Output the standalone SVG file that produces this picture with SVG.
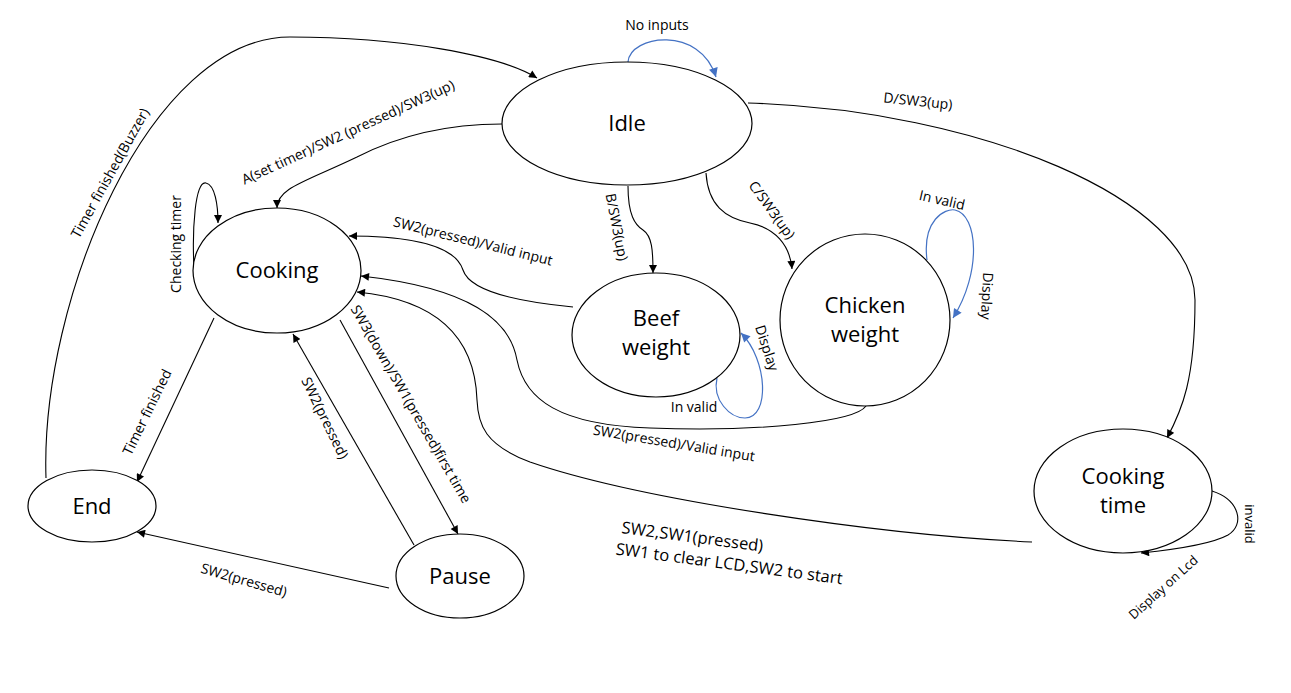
<svg xmlns="http://www.w3.org/2000/svg" width="1291" height="693" viewBox="0 0 1291 693">
<defs>
<style>
.node{fill:#fff;stroke:#000;stroke-width:1.2}
.nt{font-family:"Open Sans","Liberation Sans",sans-serif;font-size:22px;fill:#000;text-anchor:middle}
.e{fill:none;stroke:#000;stroke-width:1.1}
.b{fill:none;stroke:#4472C4;stroke-width:1.2}
.lb{font-family:"Open Sans","Liberation Sans",sans-serif;font-size:14px;fill:#000;text-anchor:middle}
.sm{font-size:13px}
</style>
<marker id="ah" viewBox="0 0 10 10" refX="10" refY="5" markerWidth="9" markerHeight="8" markerUnits="userSpaceOnUse" orient="auto"><path d="M0,0 L10,5 L0,10 z" fill="#000"/></marker>
<marker id="ahb" viewBox="0 0 10 10" refX="10" refY="5" markerWidth="10" markerHeight="9" markerUnits="userSpaceOnUse" orient="auto"><path d="M0,0 L10,5 L0,10 z" fill="#4472C4"/></marker>
</defs>
<rect width="1291" height="693" fill="#fff"/>
<g id="connectors">
<path class="e" d="M46,478 C40,300 150,37 290,37 C400,37 500,55 537,78" marker-end="url(#ah)"/>
<path class="e" d="M502,124 C450,124 400,135 357,157 C305,182 277,188 277,208" marker-end="url(#ah)"/>
<path class="b" d="M628,62 C630,35 700,25 716,77" marker-end="url(#ahb)"/>
<path class="e" d="M748,103 C980,110 1195,200 1195,300 C1195,380 1182,410 1167,438" marker-end="url(#ah)"/>
<path class="e" d="M628,186 C628,215 635,225 643,230 C652,236 653,250 653,273" marker-end="url(#ah)"/>
<path class="e" d="M706,173 C708,205 725,218 750,223 C775,228 790,245 792,269" marker-end="url(#ah)"/>
<path class="b" d="M927,260 C922,220 945,208 955,210 C978,215 982,272 953,318" marker-end="url(#ahb)"/>
<path class="e" d="M573,307 C520,302 470,292 463,270 C455,245 410,236 349,236" marker-end="url(#ah)"/>
<path class="b" d="M717,378 C712,400 730,418 745,418 C770,418 768,360 741,333" marker-end="url(#ahb)"/>
<path class="e" d="M866,406 C855,422 760,432 650,428 C560,425 525,400 517,360 C510,320 470,288 361,276" marker-end="url(#ah)"/>
<path class="e" d="M1032,542 C880,535 640,500 530,462 C485,445 478,425 477,400 C475,340 440,300 357,292" marker-end="url(#ah)"/>
<path class="e" d="M194,268 C192,230 195,180 206,183 C215,185 218,205 218,223" marker-end="url(#ah)"/>
<path class="e" d="M1212,491 C1240,500 1245,525 1228,535 C1210,545 1170,550 1141,553" marker-end="url(#ah)"/>
<path class="e" d="M214,318 Q180,390 137,482" marker-end="url(#ah)"/>
<path class="e" d="M414,545 L293,334" marker-end="url(#ah)"/>
<path class="e" d="M340,320 L458,534" marker-end="url(#ah)"/>
<path class="e" d="M389,588 L137,532" marker-end="url(#ah)"/>
</g>
<g id="labels">
<text class="lb" x="657" y="30">No inputs</text>
<text class="lb" transform="translate(918,101) rotate(6)" dy="5">D/SW3(up)</text>
<text class="lb" transform="translate(348,132) rotate(-24.5)" dy="5">A(set timer)/SW2 (pressed)/SW3(up)</text>
<text class="lb" transform="translate(110,173) rotate(-61)" dy="5">Timer finished(Buzzer)</text>
<text class="lb" transform="translate(617,227) rotate(79)" dy="5">B/SW3(up)</text>
<text class="lb" transform="translate(772,210) rotate(54)" dy="5">C/SW3(up)</text>
<text class="lb" transform="translate(942,200) rotate(13)" dy="5">In valid</text>
<text class="lb" transform="translate(987,296) rotate(93)" dy="5">Display</text>
<text class="lb" transform="translate(473,241) rotate(14)" dy="5">SW2(pressed)/Valid input</text>
<text class="lb" transform="translate(767,348) rotate(72)" dy="5">Display</text>
<text class="lb" x="694" y="412">In valid</text>
<text class="lb" transform="translate(674,443) rotate(9.5)" dy="5">SW2(pressed)/Valid input</text>
<text class="lb" transform="translate(176,244) rotate(-90)" dy="5">Checking timer</text>
<text class="lb" transform="translate(147,412) rotate(-64)" dy="5">Timer finished</text>
<text class="lb" transform="translate(325,418) rotate(64)" dy="5">SW2(pressed)</text>
<text class="lb" transform="translate(411,404) rotate(60)" dy="5">SW3(down)/SW1(pressed)first time</text>
<text class="lb" transform="translate(244,580) rotate(16)" dy="5">SW2(pressed)</text>
<text class="lb" style="font-size:16.5px;text-anchor:start" transform="translate(621,533) rotate(7.5)"><tspan x="0" y="0">SW2,SW1(pressed)</tspan><tspan x="-3" y="22">SW1 to clear LCD,SW2 to start</tspan></text>
<text class="lb sm" transform="translate(1250,524) rotate(90)" dy="5">invalid</text>
<text class="lb sm" transform="translate(1163,587) rotate(-42)" dy="5">Display on Lcd</text>
</g>
<g id="idle"><ellipse class="node" cx="627" cy="123.5" rx="125" ry="61.5"/><text class="nt" x="627" y="131">Idle</text></g>
<g id="cooking"><ellipse class="node" cx="277" cy="270.5" rx="84" ry="62.5"/><text class="nt" x="277" y="278">Cooking</text></g>
<g id="beef"><ellipse class="node" cx="656" cy="335" rx="84" ry="62"/><text class="nt" x="656" y="326">Beef</text><text class="nt" x="656" y="355">weight</text></g>
<g id="chicken"><ellipse class="node" cx="865" cy="320" rx="85" ry="86"/><text class="nt" x="865" y="313">Chicken</text><text class="nt" x="865" y="342">weight</text></g>
<g id="cookingtime"><ellipse class="node" cx="1123" cy="491" rx="89" ry="62"/><text class="nt" x="1123" y="484">Cooking</text><text class="nt" x="1123" y="513">time</text></g>
<g id="end"><ellipse class="node" cx="92" cy="506" rx="64" ry="36"/><text class="nt" x="92" y="514">End</text></g>
<g id="pause"><ellipse class="node" cx="460" cy="576" rx="64" ry="42"/><text class="nt" x="460" y="584">Pause</text></g>
</svg>
